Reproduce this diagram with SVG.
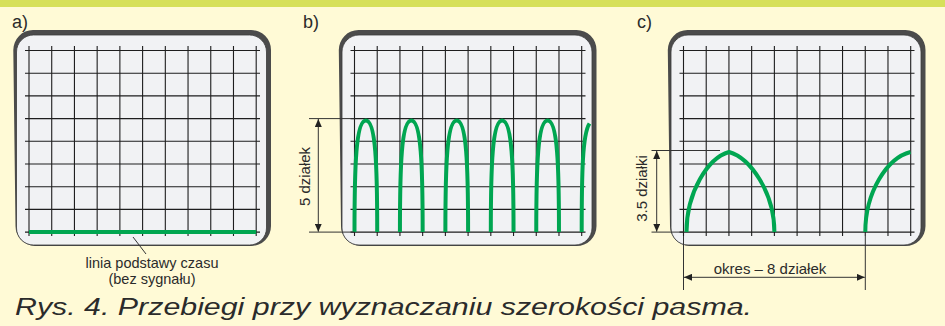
<svg xmlns="http://www.w3.org/2000/svg" xmlns:xlink="http://www.w3.org/1999/xlink" width="945" height="326" viewBox="0 0 945 326">
<style>
.lbl{font-family:"Liberation Sans",Arial,sans-serif;fill:#2b2b2b}
.grid{stroke:#1e1e1e;stroke-width:1.1;fill:none}
.trace{stroke:#00a651;stroke-width:4;fill:none}
.dim{stroke:#333;stroke-width:1;fill:none}
</style>
<defs>
<marker id="ah" viewBox="0 0 8 7" refX="8" refY="3.5" markerWidth="8" markerHeight="7" markerUnits="userSpaceOnUse" orient="auto-start-reverse"><path d="M0,0 L8,3.5 L0,7 Z" fill="#222"/></marker>
<g id="screen">
<path fill="#4b4b4b" d="M20,30 H238 A20,20 0 0 1 258,50 V226 A20,20 0 0 1 238,246 H22 A20,20 0 0 1 2.5,226 L0.3,50 A20,20 0 0 1 20,30 Z"/>
<rect x="3.5" y="35" width="250" height="210" rx="17" fill="#f1f2f4" stroke="#3a3a3a" stroke-width="0.8"/>
<path class="grid" d="M16,46V236M38.72,46V236M61.44,46V236M84.16,46V236M106.88,46V236M129.6,46V236M152.32,46V236M175.04,46V236M197.76,46V236M220.48,46V236M243.2,46V236M12,50.5H247M12,73.2H247M12,95.9H247M12,118.6H247M12,141.3H247M12,164H247M12,186.7H247M12,209.4H247M12,232.1H247"/>
</g>
</defs>
<rect x="0" y="0" width="945" height="326" fill="#fffad6"/>
<rect x="0" y="0" width="945" height="7" fill="#d6e05a"/>

<g id="panel-a">
<text class="lbl" x="12" y="28" font-size="18">a)</text>
<use xlink:href="#screen" x="13"/>
<path class="trace" d="M29,232.1 H256.2"/>
<text class="lbl" x="152" y="267.5" font-size="14.5" text-anchor="middle">linia podstawy czasu</text>
<text class="lbl" x="152" y="283.5" font-size="14.5" text-anchor="middle">(bez sygnału)</text>
</g>

<g id="panel-b">
<text class="lbl" x="303" y="28" font-size="18">b)</text>
<use xlink:href="#screen" x="338.5"/>
<path class="trace" d="M354.5,232.1 C354.5,165 356,120.5 365.86,120.5 C375.72,120.5 377.22,165 377.22,232.1
M399.94,232.1 C399.94,165 401.44,120.5 411.3,120.5 C421.16,120.5 422.66,165 422.66,232.1
M445.38,232.1 C445.38,165 446.88,120.5 456.74,120.5 C466.6,120.5 468.1,165 468.1,232.1
M490.82,232.1 C490.82,165 492.32,120.5 502.18,120.5 C512.04,120.5 513.54,165 513.54,232.1
M536.26,232.1 C536.26,165 537.76,120.5 547.62,120.5 C557.48,120.5 558.98,165 558.98,232.1
M581.7,232.1 C581.7,172 582.5,134 589.5,123.5"/>
</g>

<g id="panel-c">
<text class="lbl" x="637" y="28" font-size="18">c)</text>
<use xlink:href="#screen" x="667.5"/>
<path class="trace" d="M686.5,232.1 C686.5,192 708,158 729,152 C750,158 774.4,192 774.4,232.1
M865.3,232.1 C865.3,192 887,158 910.5,152"/>
<text class="lbl" x="770" y="273.5" font-size="15" text-anchor="middle">okres – 8 działek</text>
</g>

<g id="connectors">
<path class="dim" d="M133,237 L146,254"/>
<path class="dim" d="M309,118.6 H354.5 M309,232.1 H354.5"/>
<path class="dim" d="M318.3,119 V231.7" marker-start="url(#ah)" marker-end="url(#ah)"/>
<path class="dim" d="M651.5,150.5 H720 M651.5,232.1 H683.5"/>
<path class="dim" d="M656.7,150.9 V231.7" marker-start="url(#ah)" marker-end="url(#ah)"/>
<path class="dim" d="M683.5,236 V290 M865.3,236 V290"/>
<path class="dim" d="M684,277.3 H864.8" marker-start="url(#ah)" marker-end="url(#ah)"/>
</g>

<g id="dim-labels">
<text class="lbl" font-size="15" text-anchor="middle" transform="translate(309.5,176.5) rotate(-90)">5 działek</text>
<text class="lbl" font-size="15" text-anchor="middle" transform="translate(646.5,188.5) rotate(-90)">3.5 działki</text>
</g>

<text class="lbl" x="15" y="315" font-size="23" font-style="italic" fill="#333" textLength="737" lengthAdjust="spacingAndGlyphs">Rys. 4. Przebiegi przy wyznaczaniu szerokości pasma.</text>
</svg>
